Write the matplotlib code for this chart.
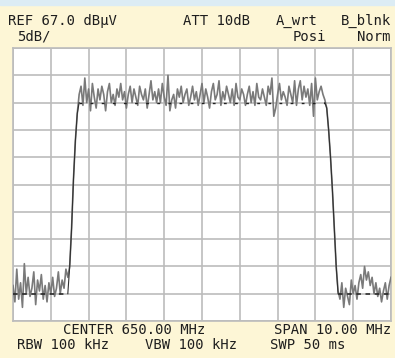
import numpy as np
import matplotlib
matplotlib.use("Agg")
import matplotlib.pyplot as plt

# sweep: 645..655 MHz, 0.05 MHz per point
f_start, f_stop = 645.0, 655.0
ref_level, db_per_div = 67.0, 5.0

left_noise = [23.5, 20.5, 26.5, 21.0, 24.0, 19.5, 27.5, 22.0, 25.0, 21.5,
              23.0, 26.0, 20.0, 24.5, 22.5, 25.5, 21.0, 23.5, 20.5, 24.0,
              22.0, 25.0, 21.5, 23.0, 26.0, 22.0, 24.5, 23.0, 26.5, 25.0]
rise = [27.0, 34.0, 43.0, 50.0, 55.0]
plateau = [58.5, 60.0, 56.5, 61.5, 57.0, 59.5, 55.5, 60.5, 58.0, 56.0,
           59.5, 57.5, 60.0, 58.5, 55.5, 59.0, 60.5, 57.0, 58.5, 56.5,
           59.5, 58.0, 60.5, 57.5, 59.0, 56.0, 58.5, 60.0, 57.0, 59.5,
           58.0, 56.5, 60.0, 58.5, 57.5, 59.5, 56.0, 58.5, 61.0, 57.5,
           59.0, 57.0, 59.5, 57.0, 60.5, 58.0, 56.5, 62.0, 55.5, 57.5,
           58.5, 56.0, 59.5, 58.0, 60.0, 57.0, 58.5, 59.5, 56.5, 58.0,
           60.0, 57.5, 59.0, 56.5, 58.5, 60.5, 57.0, 59.5, 58.0, 56.0,
           59.0, 60.5, 57.5, 58.5, 61.0, 56.5, 59.0, 57.5, 60.0, 58.5,
           57.0, 59.5, 56.5, 60.5, 58.0, 57.5, 59.5, 58.5, 56.5, 58.5,
           60.0, 57.0, 59.0, 56.5, 60.5, 58.0, 57.5, 59.5, 58.0, 56.5,
           60.0, 58.5, 61.5, 54.5, 56.0, 58.5, 60.5, 57.5, 59.0, 58.0,
           56.5, 60.0, 58.5, 57.0, 61.0, 56.5, 59.5, 61.0, 57.5, 60.0,
           58.0, 59.5, 56.5, 60.5, 54.5, 61.5, 57.5, 59.0, 60.0, 58.5,
           57.5]
fall = [56.0, 52.0, 47.0, 41.0, 34.0, 27.0]
right_noise = [22.5, 21.0, 24.0, 19.5, 23.0, 21.5, 20.0, 24.5, 22.0, 23.5,
               21.0, 24.0, 25.5, 23.0, 27.0, 24.5, 26.0, 23.5, 25.0, 22.0,
               24.0, 21.5, 23.0, 20.5, 22.5, 24.0, 21.0, 23.5, 25.0]

floor_level = 22.0
band_level = 57.0

levels = np.array(left_noise + rise + plateau + fall + right_noise)
freqs = np.linspace(f_start, f_stop, len(levels))

n_left = len(left_noise)
n_rise = len(rise)
n_plat = len(plateau)
n_fall = len(fall)

BG = "#fdf6d6"
GRID = "#bcbcbc"
TXT = "#1e1e1e"

fig = plt.figure(figsize=(3.95, 3.58), dpi=100, facecolor=BG)
fig.patches.append(plt.Rectangle((0, 1 - 5 / 358), 1, 5 / 358,
                                 transform=fig.transFigure,
                                 color="#dcecf4", zorder=0))

ax = fig.add_axes([13 / 395, 1 - 321 / 358, 378 / 395, 273 / 358])
ax.set_facecolor("white")
ax.set_xlim(f_start, f_stop)
ax.set_ylim(ref_level - 10 * db_per_div, ref_level)
ax.set_xticks(np.linspace(f_start, f_stop, 11))
ax.set_yticks(np.linspace(ref_level - 10 * db_per_div, ref_level, 11))
ax.tick_params(length=0, labelbottom=False, labelleft=False)
ax.grid(True, color=GRID, lw=1.2)
for s in ax.spines.values():
    s.set_color(GRID)
    s.set_linewidth(1.2)

# gray (positive peak) trace
ax.plot(freqs, levels, color="#7a7a7a", lw=1.2, zorder=3)

# dark trace: flats dashed, edges solid
i0 = n_left - 1
i1 = n_left + n_rise
i2 = n_left + n_rise + n_plat - 1
i3 = n_left + n_rise + n_plat + n_fall
ax.plot(freqs[:n_left], [floor_level] * n_left, color="#202020", lw=1.1,
        ls=(0, (3, 3)), zorder=4)
ax.plot(freqs[i3:], [floor_level] * (len(levels) - i3), color="#202020",
        lw=1.1, ls=(0, (3, 3)), zorder=4)
ax.plot(freqs[i1:i2 + 1], [band_level] * (i2 + 1 - i1), color="#202020",
        lw=1.0, ls=(0, (2, 6)), zorder=4)
ax.plot(freqs[i0:i1 + 1], [floor_level] + rise + [band_level],
        color="#303030", lw=0.8, zorder=4)
ax.plot(freqs[i2:i3 + 1], [band_level] + fall + [floor_level],
        color="#303030", lw=0.8, zorder=4)


def label(x, y, s, ha="left"):
    fig.text(x / 395, 1 - y / 358, s, ha=ha, va="center", color=TXT,
             family="DejaVu Sans Mono", fontsize=10)


label(8, 21, "REF 67.0 dBµV")
label(183, 21, "ATT 10dB")
label(276, 21, "A_wrt")
label(391, 21, "B_blnk", ha="right")
label(17, 37, "5dB/")
label(293, 37, "Posi")
label(391, 37, "Norm", ha="right")
label(63, 330.5, "CENTER 650.00 MHz")
label(391, 330.5, "SPAN 10.00 MHz", ha="right")
label(17, 345, "RBW 100 kHz")
label(145, 345, "VBW 100 kHz")
label(270, 345, "SWP 50 ms")

fig.savefig("out.png", dpi=100, facecolor=BG)
